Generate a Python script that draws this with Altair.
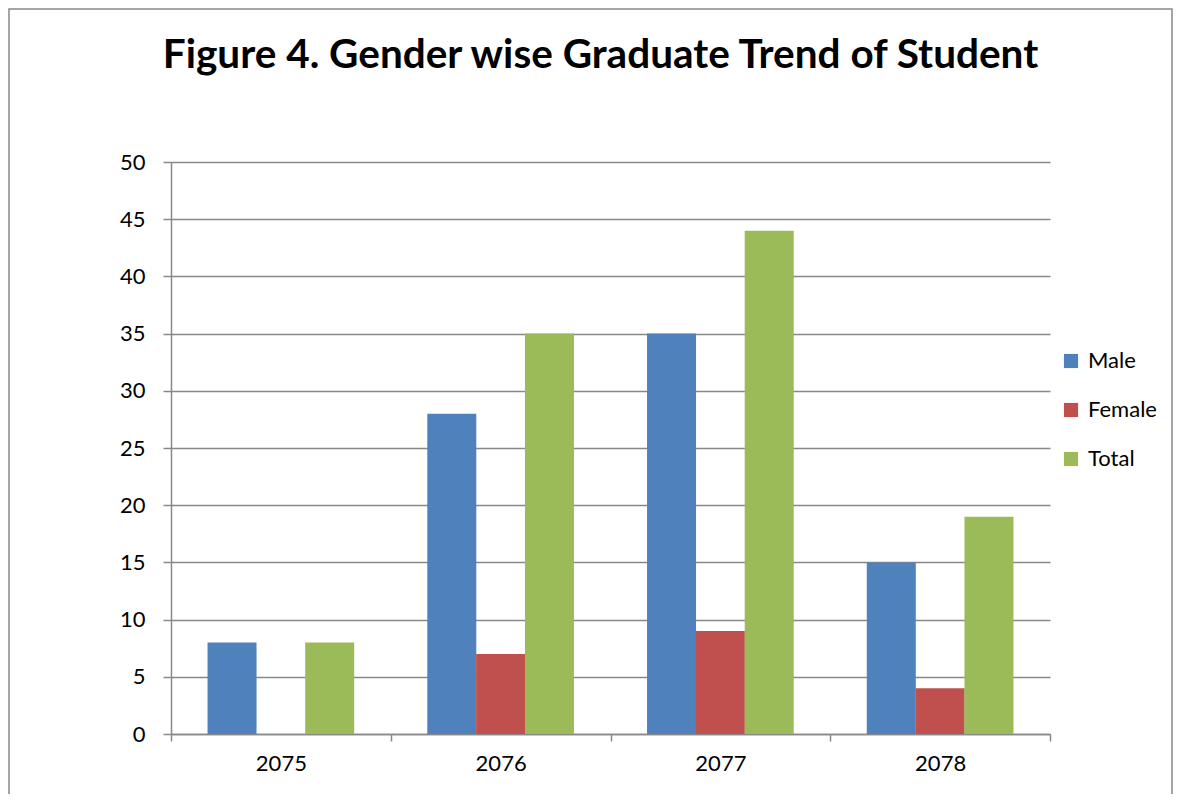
import altair as alt
import pandas as pd

years = ["2075", "2076", "2077", "2078"]
series = ["Male", "Female", "Total"]
male = [8, 28, 35, 15]
female = [0, 7, 9, 4]
total = [8, 35, 44, 19]
colors = ["#4F81BD", "#C0504D", "#9BBB59"]
y_ticks = [0, 5, 10, 15, 20, 25, 30, 35, 40, 45, 50]
title_text = "Figure 4. Gender wise Graduate Trend  of Student"

rows = []
for i, y in enumerate(years):
    for s, vals in zip(series, [male, female, total]):
        rows.append({"year": y, "series": s, "value": vals[i]})
df = pd.DataFrame(rows)

FONT = "Lato"
W, H = 879, 572

bars = alt.Chart(df).mark_bar(size=49).encode(
    x=alt.X("year:N", sort=years, title=None,
            scale=alt.Scale(paddingInner=0, paddingOuter=0),
            axis=alt.Axis(labelAngle=0, tickBand="extent", tickSize=7,
                          labelPadding=12, domainColor="#888888", tickColor="#888888",
                          domainWidth=1.5, tickWidth=1.5, labelFontSize=22,
                          labelColor="#000000", labelFont=FONT)),
    xOffset=alt.XOffset("series:N", sort=series,
                        scale=alt.Scale(paddingInner=0, paddingOuter=0.75)),
    y=alt.Y("value:Q", title=None,
            scale=alt.Scale(domain=[0, 50], nice=False),
            axis=alt.Axis(values=y_ticks, tickSize=8, labelPadding=18,
                          domainColor="#888888", tickColor="#888888",
                          domainWidth=1.5, tickWidth=1.5,
                          gridColor="#888888", gridWidth=1.5,
                          labelFontSize=22, labelColor="#000000", labelFont=FONT)),
    color=alt.Color("series:N", sort=series,
                    scale=alt.Scale(domain=series, range=colors),
                    legend=alt.Legend(title=None, orient="none", legendX=889, legendY=188,
                                      symbolType="square", symbolSize=200,
                                      symbolStrokeWidth=0, labelFontSize=22,
                                      labelFont=FONT, labelColor="#000000",
                                      rowPadding=27, labelOffset=6)),
)

frame = alt.Chart(pd.DataFrame({"k": [0]})).mark_rect(
    fill=None, stroke="#888888", strokeWidth=1.5
).encode(
    x=alt.value(-162), x2=alt.value(W + 122),
    y=alt.value(-153), y2=alt.value(H + 70),
)

chart = alt.layer(frame, bars).properties(
    width=W, height=H,
    title=alt.TitleParams(title_text, font=FONT, fontSize=40.5, fontWeight="bold",
                          color="#000000", anchor="middle", baseline="alphabetic",
                          offset=0, dy=100, dx=-10),
    autosize=alt.AutoSizeParams(type="none"),
    padding={"left": 163, "top": 154, "right": 123, "bottom": 60},
).configure_view(stroke=None).configure_axisX(grid=False)

chart.save("out.html", embed_options={"renderer": "svg", "actions": False})
